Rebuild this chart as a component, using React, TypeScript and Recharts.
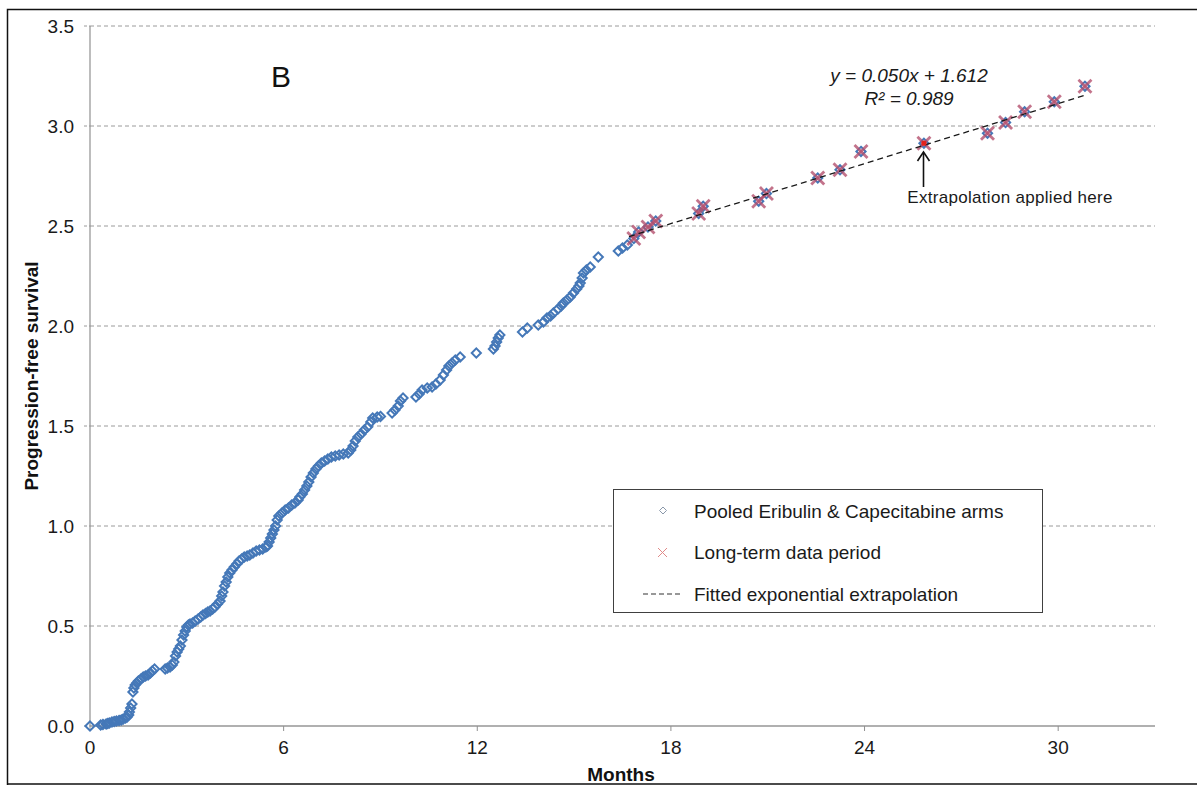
import { ScatterChart, Scatter, XAxis, YAxis, CartesianGrid, Legend } from 'recharts';

// months / progression-free survival
const monthTicks = [0, 6, 12, 18, 24, 30];
const pfsTicks = [0, 0.5, 1, 1.5, 2, 2.5, 3, 3.5];

const pooledEarly: [number, number][] = [
  [0, 0], [0.33, 0.005], [0.4, 0.008], [0.5, 0.01], [0.55, 0.013], [0.6, 0.015], [0.68, 0.02],
  [0.75, 0.022], [0.82, 0.025], [0.9, 0.028], [0.97, 0.03], [1.03, 0.035], [1.1, 0.04], [1.15, 0.045],
  [1.2, 0.055], [1.22, 0.07], [1.26, 0.09], [1.3, 0.11], [1.33, 0.17], [1.36, 0.19], [1.4, 0.205],
  [1.45, 0.215], [1.5, 0.225], [1.58, 0.235], [1.65, 0.245], [1.72, 0.25], [1.8, 0.255], [1.87, 0.265],
  [1.93, 0.275], [2.0, 0.285], [2.33, 0.285], [2.4, 0.29], [2.48, 0.295], [2.55, 0.305], [2.6, 0.32],
  [2.65, 0.35], [2.7, 0.37], [2.75, 0.385], [2.8, 0.4], [2.85, 0.43], [2.9, 0.455], [2.95, 0.475],
  [3.0, 0.495], [3.05, 0.505], [3.1, 0.51], [3.18, 0.515], [3.26, 0.525], [3.35, 0.535], [3.43, 0.545],
  [3.5, 0.555], [3.58, 0.562], [3.65, 0.57], [3.72, 0.575], [3.8, 0.585], [3.87, 0.595], [3.95, 0.61],
  [4.03, 0.625], [4.08, 0.65], [4.12, 0.67], [4.17, 0.7], [4.22, 0.72], [4.27, 0.745], [4.33, 0.765],
  [4.4, 0.78], [4.47, 0.795], [4.55, 0.81], [4.62, 0.825], [4.7, 0.835], [4.78, 0.845], [4.87, 0.85],
  [4.95, 0.855], [5.05, 0.865], [5.15, 0.875], [5.25, 0.88], [5.35, 0.885], [5.45, 0.895], [5.5, 0.9],
  [5.55, 0.92], [5.6, 0.94], [5.65, 0.96], [5.7, 0.98], [5.75, 1.0], [5.8, 1.03], [5.85, 1.05],
  [5.95, 1.065], [6.05, 1.08], [6.15, 1.09], [6.25, 1.105], [6.35, 1.115], [6.45, 1.13], [6.5, 1.145],
  [6.58, 1.16], [6.65, 1.18], [6.72, 1.2], [6.78, 1.22], [6.85, 1.245], [6.92, 1.265], [7.0, 1.285],
  [7.08, 1.3], [7.17, 1.315], [7.27, 1.325], [7.37, 1.335], [7.48, 1.345], [7.6, 1.35], [7.72, 1.355],
  [7.85, 1.36], [8.0, 1.365], [8.08, 1.38], [8.15, 1.4], [8.22, 1.425], [8.3, 1.445], [8.4, 1.46],
  [8.5, 1.48], [8.6, 1.495], [8.7, 1.52], [8.76, 1.54], [8.9, 1.545], [9.0, 1.548], [9.36, 1.565],
  [9.45, 1.58], [9.55, 1.6], [9.62, 1.625], [9.7, 1.64], [10.1, 1.645], [10.2, 1.66], [10.29, 1.68],
  [10.45, 1.69], [10.6, 1.695], [10.72, 1.71], [10.85, 1.73], [10.95, 1.755], [11.05, 1.78],
  [11.12, 1.8], [11.22, 1.815], [11.32, 1.83], [11.47, 1.845], [11.97, 1.865], [12.5, 1.885],
  [12.55, 1.9], [12.6, 1.92], [12.65, 1.94], [12.7, 1.955], [13.4, 1.97], [13.55, 1.99], [13.89, 2.005],
  [14.05, 2.02], [14.16, 2.04], [14.27, 2.05], [14.36, 2.065], [14.5, 2.085], [14.6, 2.1], [14.67, 2.115],
  [14.78, 2.13], [14.88, 2.145], [14.98, 2.165], [15.08, 2.185], [15.15, 2.2], [15.19, 2.215],
  [15.25, 2.24], [15.29, 2.265], [15.38, 2.28], [15.5, 2.295], [15.75, 2.345], [16.37, 2.375],
  [16.5, 2.39], [16.65, 2.405],
];

const longTermPoints: [number, number][] = [
  [16.85, 2.437], [17.0, 2.47], [17.29, 2.495], [17.53, 2.525], [18.86, 2.563], [19.0, 2.599],
  [20.72, 2.624], [20.96, 2.662], [22.55, 2.74], [23.24, 2.781], [23.89, 2.873], [25.84, 2.914],
  [27.81, 2.964], [28.37, 3.017], [28.96, 3.071], [29.88, 3.121], [30.83, 3.199],
];

const extrapolationPoint: [number, number][] = [[25.84, 2.914]];
const fittedLine: [number, number][] = [[16.7, 2.447], [30.8, 3.152]];

const toRows = (pts: [number, number][]) => pts.map(([m, pfs]) => ({ m, pfs }));

const FONT = 'Arial, "Liberation Sans", sans-serif';

const Diamond = (p: any) => {
  const { cx, cy } = p;
  const r = 4.6;
  return (
    <polygon
      points={`${cx},${cy - r} ${cx + r},${cy} ${cx},${cy + r} ${cx - r},${cy}`}
      fill="none"
      stroke="#4578b8"
      strokeWidth={2}
    />
  );
};

const Cross = (p: any) => {
  const { cx, cy } = p;
  const r = 6.5;
  return (
    <g stroke="#b4506e" strokeWidth={2.8} strokeOpacity={0.8}>
      <line x1={cx - r} y1={cy - r} x2={cx + r} y2={cy + r} />
      <line x1={cx - r} y1={cy + r} x2={cx + r} y2={cy - r} />
    </g>
  );
};

const RedDot = (p: any) => <circle cx={p.cx} cy={p.cy} r={2.6} fill="#e3211c" />;
const NoShape = () => <g />;

const LegendBox = () => (
  <div
    style={{
      width: 430,
      height: 124,
      boxSizing: 'border-box',
      border: '1px solid #404040',
      background: '#fff',
      fontFamily: FONT,
      fontSize: 19,
      color: '#1a1a1a',
      position: 'relative',
    }}
  >
    <svg width={430} height={124} style={{ position: 'absolute', left: 0, top: 0 }}>
      <polygon points="49,17 52.5,20.5 49,24 45.5,20.5" fill="none" stroke="#8a98aa" strokeWidth={1} />
      <g stroke="#e08a88" strokeWidth={1}>
        <line x1={44} y1={58} x2={53} y2={67} />
        <line x1={44} y1={67} x2={53} y2={58} />
      </g>
      <line x1={29} y1={104} x2={68} y2={104} stroke="#333" strokeWidth={1.2} strokeDasharray="5 3" />
      <text x={80} y={28} fontFamily={FONT} fontSize={19} fill="#1a1a1a">Pooled Eribulin &amp; Capecitabine arms</text>
      <text x={80} y={69} fontFamily={FONT} fontSize={19} fill="#1a1a1a">Long-term data period</text>
      <text x={80} y={111} fontFamily={FONT} fontSize={19} fill="#1a1a1a">Fitted exponential extrapolation</text>
    </svg>
  </div>
);

export default function App() {
  const pooled = toRows([...pooledEarly, ...longTermPoints]);
  return (
    <div style={{ position: 'absolute', left: 0, top: 0, width: 1197, height: 785, background: '#fff' }}>
      <ScatterChart width={1197} height={785} margin={{ top: 26, right: 42, bottom: 19, left: 30 }}>
        <CartesianGrid vertical={false} stroke="#9a9a9a" strokeDasharray="4 3" />
        <XAxis
          type="number"
          dataKey="m"
          domain={[0, 33]}
          ticks={monthTicks}
          height={40}
          tickSize={5}
          tickMargin={10}
          axisLine={{ stroke: '#b0b0b0', strokeWidth: 2 }}
          tickLine={{ stroke: '#909090' }}
          tick={{ fill: '#1a1a1a', fontSize: 19, fontFamily: FONT }}
        />
        <YAxis
          type="number"
          dataKey="pfs"
          domain={[0, 3.5]}
          ticks={pfsTicks}
          width={60}
          tickSize={6}
          tickMargin={10}
          tickFormatter={(v: number) => v.toFixed(1)}
          axisLine={{ stroke: '#909090', strokeWidth: 1.2 }}
          tickLine={{ stroke: '#9a9a9a', strokeDasharray: '3 2' }}
          tick={{ fill: '#1a1a1a', fontSize: 19, fontFamily: FONT }}
        />
        <Legend
          layout="vertical"
          align="center"
          verticalAlign="middle"
          wrapperStyle={{ left: 613, top: 489, width: 430, height: 124 }}
          content={() => <LegendBox />}
        />
        <Scatter name="Pooled Eribulin & Capecitabine arms" data={pooled} shape={Diamond} isAnimationActive={false} />
        <Scatter name="Long-term data period" data={toRows(longTermPoints)} shape={Cross} isAnimationActive={false} />
        <Scatter
          name="Fitted exponential extrapolation"
          data={toRows(fittedLine)}
          shape={NoShape}
          line={{ stroke: '#1a1a1a', strokeWidth: 1.3, strokeDasharray: '6 4' }}
          isAnimationActive={false}
        />
        <Scatter name="Extrapolation point" data={toRows(extrapolationPoint)} shape={RedDot} isAnimationActive={false} />
      </ScatterChart>
      <svg
        width={1197}
        height={785}
        style={{ position: 'absolute', left: 0, top: 0, pointerEvents: 'none' }}
        fontFamily={FONT}
      >
        <path d="M7.5 785 L7.5 9.5 L1197 9.5 M7.5 784 L1197 784" fill="none" stroke="#111" strokeWidth={1.5} />
        <text x={281} y={87} fontSize={30} textAnchor="middle" fill="#111">B</text>
        <text x={909} y={82} fontSize={19} fontStyle="italic" textAnchor="middle" fill="#1a1a1a">y = 0.050x + 1.612</text>
        <text x={909} y={105} fontSize={19} fontStyle="italic" textAnchor="middle" fill="#1a1a1a">R² = 0.989</text>
        <line x1={923.5} y1={187} x2={923.5} y2={153} stroke="#111" strokeWidth={1.6} />
        <path d="M917.5 161 L923.5 152 L929.5 161" fill="none" stroke="#111" strokeWidth={1.6} />
        <text x={1010} y={203} fontSize={17} textAnchor="middle" fill="#1a1a1a" letterSpacing={0.3}>Extrapolation applied here</text>
        <text x={621} y={781} fontSize={19} fontWeight="bold" textAnchor="middle" fill="#111">Months</text>
        <text x={38} y={376} fontSize={19} fontWeight="bold" textAnchor="middle" fill="#111" transform="rotate(-90 38 376)">
          Progression-free survival
        </text>
      </svg>
    </div>
  );
}
